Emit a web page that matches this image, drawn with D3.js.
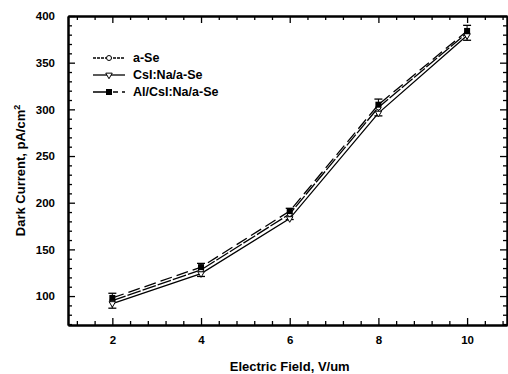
<!DOCTYPE html>
<meta charset="utf-8">
<script src="https://d3js.org/d3.v7.min.js"></script>
<style>
  body { margin: 0; background: #fff; }
  text { font-family: "Liberation Sans", Arial, sans-serif; font-weight: bold; }
</style>
<body>
<div id="chart"></div>
<script>
// data
var fields = [2, 4, 6, 8, 10];
var aSe = [95, 128, 188, 302, 382];
var csiNa = [92, 124, 183, 296, 379];
var alCsiNa = [98, 131, 191, 305, 384];
var errAlCsi = [8, 7, 6, 9, 8];
var seriesNames = ["a-Se", "CsI:Na/a-Se", "Al/CsI:Na/a-Se"];
var xTicks = [2, 4, 6, 8, 10];
var yTicks = [100, 150, 200, 250, 300, 350, 400];

var margin = {top: 16, right: 1, bottom: 49, left: 68},
    width = 508 - margin.left - margin.right,
    height = 374 - margin.top - margin.bottom;

var svg = d3.select("#chart").append("svg")
    .attr("width", 508).attr("height", 374)
  .append("g")
    .attr("transform", "translate(" + margin.left + "," + margin.top + ")");

var x = d3.scaleLinear().domain([1, 10.9]).range([0, width]);
var y = d3.scaleLinear().domain([69, 400]).range([height, 0]);

// minor ticks
var xMinor = d3.range(1.2, 10.9, 0.4).filter(function(v) { return Math.abs(v / 2 - Math.round(v / 2)) > 0.01; });
var yMinor = d3.range(70, 400, 10).filter(function(v) { return v % 50 != 0; });

// bottom / top axes (ticks inward)
svg.append("g").attr("transform", "translate(0," + height + ")")
  .call(d3.axisBottom(x).tickValues(xTicks).tickSizeInner(-7).tickSizeOuter(0).tickPadding(11).tickFormat(d3.format("d")));
svg.append("g").attr("transform", "translate(0," + height + ")")
  .call(d3.axisBottom(x).tickValues(xMinor).tickSizeInner(-4).tickSizeOuter(0).tickFormat(""));
svg.append("g")
  .call(d3.axisTop(x).tickValues(xTicks).tickSizeInner(-7).tickSizeOuter(0).tickFormat(""));
svg.append("g")
  .call(d3.axisTop(x).tickValues(xMinor).tickSizeInner(-4).tickSizeOuter(0).tickFormat(""));

// left / right axes
svg.append("g")
  .call(d3.axisLeft(y).tickValues(yTicks).tickSizeInner(-7).tickSizeOuter(0).tickPadding(13));
svg.append("g")
  .call(d3.axisLeft(y).tickValues(yMinor).tickSizeInner(-4).tickSizeOuter(0).tickFormat(""));
svg.append("g").attr("transform", "translate(" + width + ",0)")
  .call(d3.axisRight(y).tickValues(yTicks).tickSizeInner(-7).tickSizeOuter(0).tickFormat(""));
svg.append("g").attr("transform", "translate(" + width + ",0)")
  .call(d3.axisRight(y).tickValues(yMinor).tickSizeInner(-4).tickSizeOuter(0).tickFormat(""));

svg.selectAll(".domain").attr("stroke", "#000").attr("stroke-width", 2);
svg.selectAll(".tick line").attr("stroke", "#000").attr("stroke-width", 1.3);
svg.selectAll(".tick text").attr("font-size", 11.5).attr("fill", "#000")
  .style("font-family", "Liberation Sans, Arial, sans-serif").style("font-weight", "bold");

// axis titles
svg.append("text")
  .attr("x", x(6)).attr("y", height + 46)
  .attr("text-anchor", "middle").attr("font-size", 13)
  .text("Electric Field, V/um");
var yt = svg.append("text")
  .attr("transform", "translate(-43," + (height / 2) + ") rotate(-90)")
  .attr("text-anchor", "middle").attr("font-size", 13);
yt.append("tspan").text("Dark Current, pA/cm");
yt.append("tspan").attr("dy", -5).attr("font-size", 9).text("2");

var series = [
  {name: seriesNames[0], vals: aSe, dash: "14,2", marker: "circle"},
  {name: seriesNames[1], vals: csiNa, dash: null, marker: "triangle"},
  {name: seriesNames[2], vals: alCsiNa, dash: "12,5", marker: "square"}
];

var line = d3.line().x(function(d) { return x(d[0]); }).y(function(d) { return y(d[1]); });

// error bars
var eb = svg.append("g");
fields.forEach(function(f, i) {
  var lo = y(aSe[i] - errAlCsi[i]), hi = y(aSe[i] + errAlCsi[i]);
  eb.append("line").attr("x1", x(f)).attr("x2", x(f)).attr("y1", lo).attr("y2", hi)
    .attr("stroke", "#000").attr("stroke-width", 1);
  [lo, hi].forEach(function(yy) {
    eb.append("line").attr("x1", x(f) - 4).attr("x2", x(f) + 4).attr("y1", yy).attr("y2", yy)
      .attr("stroke", "#000").attr("stroke-width", 1.3);
  });
});

function drawMarker(g, type, cx, cy) {
  if (type == "circle") {
    g.append("circle").attr("cx", cx).attr("cy", cy).attr("r", 2.5)
      .attr("fill", "#fff").attr("stroke", "#000").attr("stroke-width", 1);
  } else if (type == "triangle") {
    g.append("path").attr("d", d3.symbol(d3.symbolTriangle, 18)())
      .attr("transform", "translate(" + cx + "," + cy + ") rotate(180)")
      .attr("fill", "#fff").attr("stroke", "#000").attr("stroke-width", 1);
  } else {
    g.append("rect").attr("x", cx - 3).attr("y", cy - 3).attr("width", 6).attr("height", 6)
      .attr("fill", "#000");
  }
}

series.forEach(function(s) {
  var pts = fields.map(function(f, i) { return [f, s.vals[i]]; });
  svg.append("path").datum(pts)
    .attr("fill", "none").attr("stroke", "#000").attr("stroke-width", 1.3)
    .attr("stroke-dasharray", s.dash).attr("d", line);
  var mg = svg.append("g");
  pts.forEach(function(p) { drawMarker(mg, s.marker, x(p[0]), y(p[1])); });
});

// legend
var leg = svg.append("g").attr("transform", "translate(25,42)");
series.forEach(function(s, i) {
  var g = leg.append("g").attr("transform", "translate(0," + (i * 17) + ")");
  g.append("line").attr("x1", 0).attr("x2", 32).attr("y1", 0).attr("y2", 0)
    .attr("stroke", "#000").attr("stroke-width", 1.3)
    .attr("stroke-dasharray", i == 2 ? "16,4,5,4" : (i == 0 ? "3,1" : null));
  drawMarker(g, s.marker, 16, 0);
  g.append("text").attr("x", 40).attr("y", 4).attr("font-size", 12.5).text(s.name);
});
</script>
</body>
